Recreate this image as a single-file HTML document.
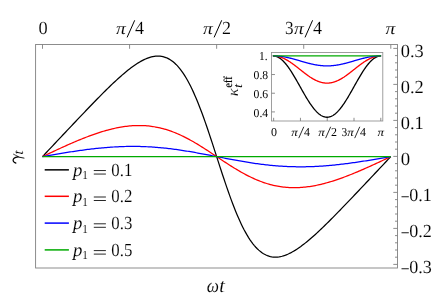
<!DOCTYPE html>
<html><head><meta charset="utf-8"><title>plot</title>
<style>html,body{margin:0;padding:0;background:#fff;}svg{display:block;will-change:transform;}text{text-rendering:geometricPrecision;}text{font-family:"Liberation Serif",serif;fill:#000;stroke:#fff;}.i{font-style:italic;}</style>
</head><body>
<svg width="434" height="305" viewBox="0 0 434 305">
<rect x="0" y="0" width="434" height="305" fill="#ffffff"/>
<g fill="none" stroke="#808080" stroke-width="0.9">
<rect x="35.60" y="44.50" width="361.90" height="223.50"/>
<line x1="42.50" y1="44.50" x2="42.50" y2="48.80"/>
<line x1="129.57" y1="44.50" x2="129.57" y2="48.80"/>
<line x1="216.65" y1="44.50" x2="216.65" y2="48.80"/>
<line x1="303.72" y1="44.50" x2="303.72" y2="48.80"/>
<line x1="390.80" y1="44.50" x2="390.80" y2="48.80"/>
<line x1="393.30" y1="264.40" x2="397.50" y2="264.40"/>
<line x1="395.00" y1="257.20" x2="397.50" y2="257.20"/>
<line x1="395.00" y1="250.00" x2="397.50" y2="250.00"/>
<line x1="395.00" y1="242.80" x2="397.50" y2="242.80"/>
<line x1="395.00" y1="235.60" x2="397.50" y2="235.60"/>
<line x1="393.30" y1="228.40" x2="397.50" y2="228.40"/>
<line x1="395.00" y1="221.20" x2="397.50" y2="221.20"/>
<line x1="395.00" y1="214.00" x2="397.50" y2="214.00"/>
<line x1="395.00" y1="206.80" x2="397.50" y2="206.80"/>
<line x1="395.00" y1="199.60" x2="397.50" y2="199.60"/>
<line x1="393.30" y1="192.40" x2="397.50" y2="192.40"/>
<line x1="395.00" y1="185.20" x2="397.50" y2="185.20"/>
<line x1="395.00" y1="178.00" x2="397.50" y2="178.00"/>
<line x1="395.00" y1="170.80" x2="397.50" y2="170.80"/>
<line x1="395.00" y1="163.60" x2="397.50" y2="163.60"/>
<line x1="393.30" y1="156.40" x2="397.50" y2="156.40"/>
<line x1="395.00" y1="149.20" x2="397.50" y2="149.20"/>
<line x1="395.00" y1="142.00" x2="397.50" y2="142.00"/>
<line x1="395.00" y1="134.80" x2="397.50" y2="134.80"/>
<line x1="395.00" y1="127.60" x2="397.50" y2="127.60"/>
<line x1="393.30" y1="120.40" x2="397.50" y2="120.40"/>
<line x1="395.00" y1="113.20" x2="397.50" y2="113.20"/>
<line x1="395.00" y1="106.00" x2="397.50" y2="106.00"/>
<line x1="395.00" y1="98.80" x2="397.50" y2="98.80"/>
<line x1="395.00" y1="91.60" x2="397.50" y2="91.60"/>
<line x1="393.30" y1="84.40" x2="397.50" y2="84.40"/>
<line x1="395.00" y1="77.20" x2="397.50" y2="77.20"/>
<line x1="395.00" y1="70.00" x2="397.50" y2="70.00"/>
<line x1="395.00" y1="62.80" x2="397.50" y2="62.80"/>
<line x1="395.00" y1="55.60" x2="397.50" y2="55.60"/>
<line x1="393.30" y1="48.40" x2="397.50" y2="48.40"/>
<rect x="271.55" y="52.55" width="111.25" height="68.45" stroke="#8e8e8e" stroke-width="0.85"/>
<line x1="273.65" y1="121.00" x2="273.65" y2="117.80"/>
<line x1="300.44" y1="121.00" x2="300.44" y2="117.80"/>
<line x1="327.23" y1="121.00" x2="327.23" y2="117.80"/>
<line x1="354.01" y1="121.00" x2="354.01" y2="117.80"/>
<line x1="380.80" y1="121.00" x2="380.80" y2="117.80"/>
<line x1="271.55" y1="55.85" x2="274.95" y2="55.85"/>
<line x1="271.55" y1="74.54" x2="274.95" y2="74.54"/>
<line x1="271.55" y1="93.23" x2="274.95" y2="93.23"/>
<line x1="271.55" y1="111.92" x2="274.95" y2="111.92"/>
</g>
<g fill="none" stroke-width="1.25" stroke-linejoin="round" stroke-linecap="butt">
<polyline stroke="#000000" points="42.50,156.60 43.95,155.06 45.40,153.52 46.85,151.98 48.30,150.44 49.76,148.89 51.21,147.35 52.66,145.81 54.11,144.27 55.56,142.73 57.01,141.19 58.46,139.65 59.91,138.11 61.37,136.57 62.82,135.03 64.27,133.49 65.72,131.96 67.17,130.42 68.62,128.88 70.07,127.35 71.53,125.81 72.98,124.28 74.43,122.74 75.88,121.21 77.33,119.68 78.78,118.15 80.23,116.63 81.68,115.10 83.14,113.58 84.59,112.06 86.04,110.54 87.49,109.03 88.94,107.52 90.39,106.01 91.84,104.51 93.29,103.01 94.75,101.52 96.20,100.03 97.65,98.55 99.10,97.07 100.55,95.60 102.00,94.14 103.45,92.68 104.90,91.24 106.35,89.80 107.81,88.38 109.26,86.97 110.71,85.56 112.16,84.17 113.61,82.80 115.06,81.44 116.51,80.09 117.97,78.77 119.42,77.46 120.87,76.17 122.32,74.90 123.77,73.66 125.22,72.44 126.67,71.24 128.12,70.07 129.57,68.93 131.03,67.83 132.48,66.75 133.93,65.72 135.38,64.72 136.83,63.76 138.28,62.84 139.73,61.97 141.19,61.14 142.64,60.37 144.09,59.65 145.54,58.98 146.99,58.38 148.44,57.83 149.89,57.36 151.34,56.95 152.80,56.62 154.25,56.36 155.70,56.19 157.15,56.10 158.60,56.10 160.05,56.19 161.50,56.37 162.95,56.66 164.41,57.05 165.86,57.55 167.31,58.17 168.76,58.90 170.21,59.75 171.66,60.72 173.11,61.83 174.56,63.06 176.02,64.43 177.47,65.94 178.92,67.59 180.37,69.38 181.82,71.32 183.27,73.40 184.72,75.64 186.17,78.02 187.62,80.55 189.08,83.22 190.53,86.05 191.98,89.02 193.43,92.13 194.88,95.38 196.33,98.77 197.78,102.29 199.23,105.94 200.69,109.71 202.14,113.58 203.59,117.57 205.04,121.65 206.49,125.82 207.94,130.06 209.39,134.38 210.84,138.75 212.30,143.17 213.75,147.63 215.20,152.11 216.65,156.60 218.10,161.09 219.55,165.57 221.00,170.03 222.45,174.45 223.91,178.82 225.36,183.14 226.81,187.38 228.26,191.55 229.71,195.63 231.16,199.62 232.61,203.49 234.07,207.26 235.52,210.91 236.97,214.43 238.42,217.82 239.87,221.07 241.32,224.18 242.77,227.15 244.22,229.98 245.68,232.65 247.13,235.18 248.58,237.56 250.03,239.80 251.48,241.88 252.93,243.82 254.38,245.61 255.83,247.26 257.28,248.77 258.74,250.14 260.19,251.37 261.64,252.48 263.09,253.45 264.54,254.30 265.99,255.03 267.44,255.65 268.90,256.15 270.35,256.54 271.80,256.83 273.25,257.01 274.70,257.10 276.15,257.10 277.60,257.01 279.05,256.84 280.50,256.58 281.96,256.25 283.41,255.84 284.86,255.37 286.31,254.82 287.76,254.22 289.21,253.55 290.66,252.83 292.12,252.06 293.57,251.23 295.02,250.36 296.47,249.44 297.92,248.48 299.37,247.48 300.82,246.45 302.27,245.37 303.72,244.27 305.18,243.13 306.63,241.96 308.08,240.76 309.53,239.54 310.98,238.30 312.43,237.03 313.88,235.74 315.34,234.43 316.79,233.11 318.24,231.76 319.69,230.40 321.14,229.03 322.59,227.64 324.04,226.23 325.49,224.82 326.94,223.40 328.40,221.96 329.85,220.52 331.30,219.06 332.75,217.60 334.20,216.13 335.65,214.65 337.10,213.17 338.56,211.68 340.01,210.19 341.46,208.69 342.91,207.19 344.36,205.68 345.81,204.17 347.26,202.66 348.71,201.14 350.17,199.62 351.62,198.10 353.07,196.57 354.52,195.05 355.97,193.52 357.42,191.99 358.87,190.46 360.32,188.92 361.78,187.39 363.23,185.85 364.68,184.32 366.13,182.78 367.58,181.24 369.03,179.71 370.48,178.17 371.93,176.63 373.39,175.09 374.84,173.55 376.29,172.01 377.74,170.47 379.19,168.93 380.64,167.39 382.09,165.85 383.54,164.31 385.00,162.76 386.45,161.22 387.90,159.68 389.35,158.14 390.80,156.60"/>
<polyline stroke="#ff0000" points="42.50,156.60 43.95,155.92 45.40,155.23 46.85,154.55 48.30,153.86 49.76,153.18 51.21,152.50 52.66,151.82 54.11,151.14 55.56,150.47 57.01,149.79 58.46,149.12 59.91,148.46 61.37,147.79 62.82,147.13 64.27,146.48 65.72,145.82 67.17,145.17 68.62,144.53 70.07,143.89 71.53,143.26 72.98,142.63 74.43,142.01 75.88,141.39 77.33,140.78 78.78,140.18 80.23,139.58 81.68,138.99 83.14,138.41 84.59,137.84 86.04,137.27 87.49,136.72 88.94,136.17 90.39,135.63 91.84,135.10 93.29,134.59 94.75,134.08 96.20,133.58 97.65,133.10 99.10,132.62 100.55,132.16 102.00,131.71 103.45,131.27 104.90,130.84 106.35,130.43 107.81,130.03 109.26,129.65 110.71,129.28 112.16,128.93 113.61,128.59 115.06,128.26 116.51,127.95 117.97,127.66 119.42,127.39 120.87,127.13 122.32,126.89 123.77,126.67 125.22,126.46 126.67,126.28 128.12,126.11 129.57,125.96 131.03,125.84 132.48,125.73 133.93,125.64 135.38,125.58 136.83,125.53 138.28,125.51 139.73,125.51 141.19,125.53 142.64,125.57 144.09,125.64 145.54,125.73 146.99,125.84 148.44,125.97 149.89,126.13 151.34,126.31 152.80,126.52 154.25,126.75 155.70,127.01 157.15,127.29 158.60,127.59 160.05,127.92 161.50,128.27 162.95,128.65 164.41,129.05 165.86,129.47 167.31,129.92 168.76,130.39 170.21,130.89 171.66,131.41 173.11,131.96 174.56,132.53 176.02,133.12 177.47,133.73 178.92,134.37 180.37,135.02 181.82,135.70 183.27,136.40 184.72,137.12 186.17,137.86 187.62,138.62 189.08,139.40 190.53,140.19 191.98,141.00 193.43,141.83 194.88,142.68 196.33,143.54 197.78,144.41 199.23,145.29 200.69,146.19 202.14,147.10 203.59,148.02 205.04,148.95 206.49,149.89 207.94,150.83 209.39,151.79 210.84,152.74 212.30,153.70 213.75,154.67 215.20,155.63 216.65,156.60 218.10,157.57 219.55,158.53 221.00,159.50 222.45,160.46 223.91,161.41 225.36,162.37 226.81,163.31 228.26,164.25 229.71,165.18 231.16,166.10 232.61,167.01 234.07,167.91 235.52,168.79 236.97,169.66 238.42,170.52 239.87,171.37 241.32,172.20 242.77,173.01 244.22,173.80 245.68,174.58 247.13,175.34 248.58,176.08 250.03,176.80 251.48,177.50 252.93,178.18 254.38,178.83 255.83,179.47 257.28,180.08 258.74,180.67 260.19,181.24 261.64,181.79 263.09,182.31 264.54,182.81 265.99,183.28 267.44,183.73 268.90,184.15 270.35,184.55 271.80,184.93 273.25,185.28 274.70,185.61 276.15,185.91 277.60,186.19 279.05,186.45 280.50,186.68 281.96,186.89 283.41,187.07 284.86,187.23 286.31,187.36 287.76,187.47 289.21,187.56 290.66,187.63 292.12,187.67 293.57,187.69 295.02,187.69 296.47,187.67 297.92,187.62 299.37,187.56 300.82,187.47 302.27,187.36 303.72,187.24 305.18,187.09 306.63,186.92 308.08,186.74 309.53,186.53 310.98,186.31 312.43,186.07 313.88,185.81 315.34,185.54 316.79,185.25 318.24,184.94 319.69,184.61 321.14,184.27 322.59,183.92 324.04,183.55 325.49,183.17 326.94,182.77 328.40,182.36 329.85,181.93 331.30,181.49 332.75,181.04 334.20,180.58 335.65,180.10 337.10,179.62 338.56,179.12 340.01,178.61 341.46,178.10 342.91,177.57 344.36,177.03 345.81,176.48 347.26,175.93 348.71,175.36 350.17,174.79 351.62,174.21 353.07,173.62 354.52,173.02 355.97,172.42 357.42,171.81 358.87,171.19 360.32,170.57 361.78,169.94 363.23,169.31 364.68,168.67 366.13,168.03 367.58,167.38 369.03,166.72 370.48,166.07 371.93,165.41 373.39,164.74 374.84,164.08 376.29,163.41 377.74,162.73 379.19,162.06 380.64,161.38 382.09,160.70 383.54,160.02 385.00,159.34 386.45,158.65 387.90,157.97 389.35,157.28 390.80,156.60"/>
<polyline stroke="#0000ff" points="42.50,156.60 43.95,156.35 45.40,156.10 46.85,155.84 48.30,155.59 49.76,155.34 51.21,155.09 52.66,154.84 54.11,154.60 55.56,154.35 57.01,154.10 58.46,153.86 59.91,153.62 61.37,153.37 62.82,153.14 64.27,152.90 65.72,152.66 67.17,152.43 68.62,152.20 70.07,151.97 71.53,151.75 72.98,151.53 74.43,151.31 75.88,151.09 77.33,150.88 78.78,150.67 80.23,150.46 81.68,150.26 83.14,150.06 84.59,149.87 86.04,149.68 87.49,149.49 88.94,149.31 90.39,149.14 91.84,148.96 93.29,148.79 94.75,148.63 96.20,148.47 97.65,148.32 99.10,148.17 100.55,148.03 102.00,147.89 103.45,147.76 104.90,147.63 106.35,147.51 107.81,147.40 109.26,147.29 110.71,147.18 112.16,147.09 113.61,147.00 115.06,146.91 116.51,146.83 117.97,146.76 119.42,146.69 120.87,146.63 122.32,146.58 123.77,146.54 125.22,146.50 126.67,146.46 128.12,146.44 129.57,146.42 131.03,146.41 132.48,146.40 133.93,146.41 135.38,146.42 136.83,146.43 138.28,146.46 139.73,146.49 141.19,146.52 142.64,146.57 144.09,146.62 145.54,146.68 146.99,146.75 148.44,146.82 149.89,146.90 151.34,146.99 152.80,147.08 154.25,147.18 155.70,147.29 157.15,147.41 158.60,147.53 160.05,147.66 161.50,147.79 162.95,147.93 164.41,148.08 165.86,148.24 167.31,148.40 168.76,148.56 170.21,148.74 171.66,148.92 173.11,149.10 174.56,149.29 176.02,149.49 177.47,149.69 178.92,149.90 180.37,150.11 181.82,150.33 183.27,150.55 184.72,150.78 186.17,151.01 187.62,151.25 189.08,151.49 190.53,151.73 191.98,151.98 193.43,152.23 194.88,152.49 196.33,152.75 197.78,153.01 199.23,153.27 200.69,153.54 202.14,153.81 203.59,154.08 205.04,154.36 206.49,154.64 207.94,154.91 209.39,155.19 210.84,155.47 212.30,155.75 213.75,156.04 215.20,156.32 216.65,156.60 218.10,156.88 219.55,157.16 221.00,157.45 222.45,157.73 223.91,158.01 225.36,158.29 226.81,158.56 228.26,158.84 229.71,159.12 231.16,159.39 232.61,159.66 234.07,159.93 235.52,160.19 236.97,160.45 238.42,160.71 239.87,160.97 241.32,161.22 242.77,161.47 244.22,161.71 245.68,161.95 247.13,162.19 248.58,162.42 250.03,162.65 251.48,162.87 252.93,163.09 254.38,163.30 255.83,163.51 257.28,163.71 258.74,163.91 260.19,164.10 261.64,164.28 263.09,164.46 264.54,164.64 265.99,164.80 267.44,164.96 268.90,165.12 270.35,165.27 271.80,165.41 273.25,165.54 274.70,165.67 276.15,165.79 277.60,165.91 279.05,166.02 280.50,166.12 281.96,166.21 283.41,166.30 284.86,166.38 286.31,166.45 287.76,166.52 289.21,166.58 290.66,166.63 292.12,166.68 293.57,166.71 295.02,166.74 296.47,166.77 297.92,166.78 299.37,166.79 300.82,166.80 302.27,166.79 303.72,166.78 305.18,166.76 306.63,166.74 308.08,166.70 309.53,166.66 310.98,166.62 312.43,166.57 313.88,166.51 315.34,166.44 316.79,166.37 318.24,166.29 319.69,166.20 321.14,166.11 322.59,166.02 324.04,165.91 325.49,165.80 326.94,165.69 328.40,165.57 329.85,165.44 331.30,165.31 332.75,165.17 334.20,165.03 335.65,164.88 337.10,164.73 338.56,164.57 340.01,164.41 341.46,164.24 342.91,164.06 344.36,163.89 345.81,163.71 347.26,163.52 348.71,163.33 350.17,163.14 351.62,162.94 353.07,162.74 354.52,162.53 355.97,162.32 357.42,162.11 358.87,161.89 360.32,161.67 361.78,161.45 363.23,161.23 364.68,161.00 366.13,160.77 367.58,160.54 369.03,160.30 370.48,160.06 371.93,159.83 373.39,159.58 374.84,159.34 376.29,159.10 377.74,158.85 379.19,158.60 380.64,158.36 382.09,158.11 383.54,157.86 385.00,157.61 386.45,157.36 387.90,157.10 389.35,156.85 390.80,156.60"/>
<polyline stroke="#00aa00" points="42.50,156.60 43.95,156.60 45.40,156.60 46.85,156.60 48.30,156.60 49.76,156.60 51.21,156.60 52.66,156.60 54.11,156.60 55.56,156.60 57.01,156.60 58.46,156.60 59.91,156.60 61.37,156.60 62.82,156.60 64.27,156.60 65.72,156.60 67.17,156.60 68.62,156.60 70.07,156.60 71.53,156.60 72.98,156.60 74.43,156.60 75.88,156.60 77.33,156.60 78.78,156.60 80.23,156.60 81.68,156.60 83.14,156.60 84.59,156.60 86.04,156.60 87.49,156.60 88.94,156.60 90.39,156.60 91.84,156.60 93.29,156.60 94.75,156.60 96.20,156.60 97.65,156.60 99.10,156.60 100.55,156.60 102.00,156.60 103.45,156.60 104.90,156.60 106.35,156.60 107.81,156.60 109.26,156.60 110.71,156.60 112.16,156.60 113.61,156.60 115.06,156.60 116.51,156.60 117.97,156.60 119.42,156.60 120.87,156.60 122.32,156.60 123.77,156.60 125.22,156.60 126.67,156.60 128.12,156.60 129.57,156.60 131.03,156.60 132.48,156.60 133.93,156.60 135.38,156.60 136.83,156.60 138.28,156.60 139.73,156.60 141.19,156.60 142.64,156.60 144.09,156.60 145.54,156.60 146.99,156.60 148.44,156.60 149.89,156.60 151.34,156.60 152.80,156.60 154.25,156.60 155.70,156.60 157.15,156.60 158.60,156.60 160.05,156.60 161.50,156.60 162.95,156.60 164.41,156.60 165.86,156.60 167.31,156.60 168.76,156.60 170.21,156.60 171.66,156.60 173.11,156.60 174.56,156.60 176.02,156.60 177.47,156.60 178.92,156.60 180.37,156.60 181.82,156.60 183.27,156.60 184.72,156.60 186.17,156.60 187.62,156.60 189.08,156.60 190.53,156.60 191.98,156.60 193.43,156.60 194.88,156.60 196.33,156.60 197.78,156.60 199.23,156.60 200.69,156.60 202.14,156.60 203.59,156.60 205.04,156.60 206.49,156.60 207.94,156.60 209.39,156.60 210.84,156.60 212.30,156.60 213.75,156.60 215.20,156.60 216.65,156.60 218.10,156.60 219.55,156.60 221.00,156.60 222.45,156.60 223.91,156.60 225.36,156.60 226.81,156.60 228.26,156.60 229.71,156.60 231.16,156.60 232.61,156.60 234.07,156.60 235.52,156.60 236.97,156.60 238.42,156.60 239.87,156.60 241.32,156.60 242.77,156.60 244.22,156.60 245.68,156.60 247.13,156.60 248.58,156.60 250.03,156.60 251.48,156.60 252.93,156.60 254.38,156.60 255.83,156.60 257.28,156.60 258.74,156.60 260.19,156.60 261.64,156.60 263.09,156.60 264.54,156.60 265.99,156.60 267.44,156.60 268.90,156.60 270.35,156.60 271.80,156.60 273.25,156.60 274.70,156.60 276.15,156.60 277.60,156.60 279.05,156.60 280.50,156.60 281.96,156.60 283.41,156.60 284.86,156.60 286.31,156.60 287.76,156.60 289.21,156.60 290.66,156.60 292.12,156.60 293.57,156.60 295.02,156.60 296.47,156.60 297.92,156.60 299.37,156.60 300.82,156.60 302.27,156.60 303.72,156.60 305.18,156.60 306.63,156.60 308.08,156.60 309.53,156.60 310.98,156.60 312.43,156.60 313.88,156.60 315.34,156.60 316.79,156.60 318.24,156.60 319.69,156.60 321.14,156.60 322.59,156.60 324.04,156.60 325.49,156.60 326.94,156.60 328.40,156.60 329.85,156.60 331.30,156.60 332.75,156.60 334.20,156.60 335.65,156.60 337.10,156.60 338.56,156.60 340.01,156.60 341.46,156.60 342.91,156.60 344.36,156.60 345.81,156.60 347.26,156.60 348.71,156.60 350.17,156.60 351.62,156.60 353.07,156.60 354.52,156.60 355.97,156.60 357.42,156.60 358.87,156.60 360.32,156.60 361.78,156.60 363.23,156.60 364.68,156.60 366.13,156.60 367.58,156.60 369.03,156.60 370.48,156.60 371.93,156.60 373.39,156.60 374.84,156.60 376.29,156.60 377.74,156.60 379.19,156.60 380.64,156.60 382.09,156.60 383.54,156.60 385.00,156.60 386.45,156.60 387.90,156.60 389.35,156.60 390.80,156.60"/>
</g>
<g fill="none" stroke-width="1.3" stroke-linejoin="round">
<polyline stroke="#000000" points="273.00,55.85 273.45,55.86 273.90,55.89 274.35,55.94 274.80,56.02 275.25,56.11 275.70,56.23 276.15,56.36 276.60,56.52 277.05,56.70 277.50,56.90 277.95,57.11 278.40,57.35 278.86,57.61 279.31,57.89 279.76,58.19 280.21,58.50 280.66,58.84 281.11,59.20 281.56,59.57 282.01,59.96 282.46,60.37 282.91,60.80 283.36,61.25 283.81,61.71 284.26,62.19 284.71,62.69 285.16,63.21 285.61,63.74 286.06,64.28 286.51,64.84 286.96,65.42 287.41,66.01 287.86,66.61 288.31,67.23 288.76,67.86 289.22,68.50 289.67,69.16 290.12,69.83 290.57,70.51 291.02,71.20 291.47,71.90 291.92,72.61 292.37,73.33 292.82,74.06 293.27,74.80 293.72,75.55 294.17,76.30 294.62,77.06 295.07,77.83 295.52,78.60 295.97,79.38 296.42,80.17 296.87,80.95 297.32,81.75 297.77,82.54 298.22,83.34 298.67,84.14 299.12,84.94 299.57,85.74 300.02,86.55 300.48,87.35 300.93,88.15 301.38,88.96 301.83,89.76 302.28,90.56 302.73,91.35 303.18,92.14 303.63,92.93 304.08,93.71 304.53,94.49 304.98,95.27 305.43,96.03 305.88,96.80 306.33,97.55 306.78,98.30 307.23,99.03 307.68,99.76 308.13,100.49 308.58,101.20 309.03,101.90 309.48,102.59 309.93,103.27 310.38,103.94 310.84,104.59 311.29,105.24 311.74,105.87 312.19,106.49 312.64,107.09 313.09,107.68 313.54,108.26 313.99,108.82 314.44,109.36 314.89,109.89 315.34,110.41 315.79,110.90 316.24,111.38 316.69,111.85 317.14,112.29 317.59,112.72 318.04,113.13 318.49,113.53 318.94,113.90 319.39,114.26 319.84,114.59 320.29,114.91 320.74,115.21 321.19,115.49 321.64,115.74 322.10,115.98 322.55,116.20 323.00,116.40 323.45,116.58 323.90,116.73 324.35,116.87 324.80,116.98 325.25,117.08 325.70,117.15 326.15,117.20 326.60,117.24 327.05,117.25 327.50,117.24 327.95,117.20 328.40,117.15 328.85,117.08 329.30,116.98 329.75,116.87 330.20,116.73 330.65,116.58 331.10,116.40 331.55,116.20 332.00,115.98 332.46,115.74 332.91,115.49 333.36,115.21 333.81,114.91 334.26,114.59 334.71,114.26 335.16,113.90 335.61,113.53 336.06,113.13 336.51,112.72 336.96,112.29 337.41,111.85 337.86,111.38 338.31,110.90 338.76,110.41 339.21,109.89 339.66,109.36 340.11,108.82 340.56,108.26 341.01,107.68 341.46,107.09 341.91,106.49 342.36,105.87 342.81,105.24 343.26,104.59 343.72,103.94 344.17,103.27 344.62,102.59 345.07,101.90 345.52,101.20 345.97,100.49 346.42,99.76 346.87,99.03 347.32,98.30 347.77,97.55 348.22,96.80 348.67,96.03 349.12,95.27 349.57,94.49 350.02,93.71 350.47,92.93 350.92,92.14 351.37,91.35 351.82,90.56 352.27,89.76 352.72,88.96 353.17,88.15 353.62,87.35 354.08,86.55 354.53,85.74 354.98,84.94 355.43,84.14 355.88,83.34 356.33,82.54 356.78,81.75 357.23,80.95 357.68,80.17 358.13,79.38 358.58,78.60 359.03,77.83 359.48,77.06 359.93,76.30 360.38,75.55 360.83,74.80 361.28,74.06 361.73,73.33 362.18,72.61 362.63,71.90 363.08,71.20 363.53,70.51 363.98,69.83 364.43,69.16 364.88,68.50 365.34,67.86 365.79,67.23 366.24,66.61 366.69,66.01 367.14,65.42 367.59,64.84 368.04,64.28 368.49,63.74 368.94,63.21 369.39,62.69 369.84,62.19 370.29,61.71 370.74,61.25 371.19,60.80 371.64,60.37 372.09,59.96 372.54,59.57 372.99,59.20 373.44,58.84 373.89,58.50 374.34,58.19 374.79,57.89 375.24,57.61 375.70,57.35 376.15,57.11 376.60,56.90 377.05,56.70 377.50,56.52 377.95,56.36 378.40,56.23 378.85,56.11 379.30,56.02 379.75,55.94 380.20,55.89 380.65,55.86 381.10,55.85"/>
<polyline stroke="#ff0000" points="273.00,55.85 273.45,55.85 273.90,55.87 274.35,55.89 274.80,55.92 275.25,55.97 275.70,56.02 276.15,56.08 276.60,56.15 277.05,56.23 277.50,56.31 277.95,56.41 278.40,56.52 278.86,56.63 279.31,56.76 279.76,56.89 280.21,57.03 280.66,57.18 281.11,57.34 281.56,57.50 282.01,57.68 282.46,57.86 282.91,58.05 283.36,58.25 283.81,58.46 284.26,58.67 284.71,58.89 285.16,59.12 285.61,59.35 286.06,59.60 286.51,59.85 286.96,60.10 287.41,60.36 287.86,60.63 288.31,60.91 288.76,61.19 289.22,61.47 289.67,61.77 290.12,62.06 290.57,62.36 291.02,62.67 291.47,62.98 291.92,63.30 292.37,63.62 292.82,63.94 293.27,64.27 293.72,64.60 294.17,64.94 294.62,65.28 295.07,65.62 295.52,65.96 295.97,66.31 296.42,66.66 296.87,67.01 297.32,67.36 297.77,67.71 298.22,68.07 298.67,68.42 299.12,68.78 299.57,69.14 300.02,69.49 300.48,69.85 300.93,70.21 301.38,70.56 301.83,70.92 302.28,71.27 302.73,71.63 303.18,71.98 303.63,72.33 304.08,72.68 304.53,73.02 304.98,73.37 305.43,73.71 305.88,74.05 306.33,74.38 306.78,74.71 307.23,75.04 307.68,75.37 308.13,75.69 308.58,76.00 309.03,76.32 309.48,76.62 309.93,76.92 310.38,77.22 310.84,77.51 311.29,77.80 311.74,78.08 312.19,78.35 312.64,78.62 313.09,78.89 313.54,79.14 313.99,79.39 314.44,79.63 314.89,79.87 315.34,80.10 315.79,80.32 316.24,80.53 316.69,80.74 317.14,80.94 317.59,81.13 318.04,81.31 318.49,81.48 318.94,81.65 319.39,81.81 319.84,81.96 320.29,82.10 320.74,82.23 321.19,82.35 321.64,82.47 322.10,82.58 322.55,82.67 323.00,82.76 323.45,82.84 323.90,82.91 324.35,82.97 324.80,83.02 325.25,83.06 325.70,83.10 326.15,83.12 326.60,83.13 327.05,83.14 327.50,83.13 327.95,83.12 328.40,83.10 328.85,83.06 329.30,83.02 329.75,82.97 330.20,82.91 330.65,82.84 331.10,82.76 331.55,82.67 332.00,82.58 332.46,82.47 332.91,82.35 333.36,82.23 333.81,82.10 334.26,81.96 334.71,81.81 335.16,81.65 335.61,81.48 336.06,81.31 336.51,81.13 336.96,80.94 337.41,80.74 337.86,80.53 338.31,80.32 338.76,80.10 339.21,79.87 339.66,79.63 340.11,79.39 340.56,79.14 341.01,78.89 341.46,78.62 341.91,78.35 342.36,78.08 342.81,77.80 343.26,77.51 343.72,77.22 344.17,76.92 344.62,76.62 345.07,76.32 345.52,76.00 345.97,75.69 346.42,75.37 346.87,75.04 347.32,74.71 347.77,74.38 348.22,74.05 348.67,73.71 349.12,73.37 349.57,73.02 350.02,72.68 350.47,72.33 350.92,71.98 351.37,71.63 351.82,71.27 352.27,70.92 352.72,70.56 353.17,70.21 353.62,69.85 354.08,69.49 354.53,69.14 354.98,68.78 355.43,68.42 355.88,68.07 356.33,67.71 356.78,67.36 357.23,67.01 357.68,66.66 358.13,66.31 358.58,65.96 359.03,65.62 359.48,65.28 359.93,64.94 360.38,64.60 360.83,64.27 361.28,63.94 361.73,63.62 362.18,63.30 362.63,62.98 363.08,62.67 363.53,62.36 363.98,62.06 364.43,61.77 364.88,61.47 365.34,61.19 365.79,60.91 366.24,60.63 366.69,60.36 367.14,60.10 367.59,59.85 368.04,59.60 368.49,59.35 368.94,59.12 369.39,58.89 369.84,58.67 370.29,58.46 370.74,58.25 371.19,58.05 371.64,57.86 372.09,57.68 372.54,57.50 372.99,57.34 373.44,57.18 373.89,57.03 374.34,56.89 374.79,56.76 375.24,56.63 375.70,56.52 376.15,56.41 376.60,56.31 377.05,56.23 377.50,56.15 377.95,56.08 378.40,56.02 378.85,55.97 379.30,55.92 379.75,55.89 380.20,55.87 380.65,55.85 381.10,55.85"/>
<polyline stroke="#0000ff" points="273.00,55.85 273.45,55.85 273.90,55.86 274.35,55.87 274.80,55.88 275.25,55.89 275.70,55.91 276.15,55.93 276.60,55.96 277.05,55.99 277.50,56.02 277.95,56.06 278.40,56.10 278.86,56.14 279.31,56.18 279.76,56.23 280.21,56.28 280.66,56.34 281.11,56.40 281.56,56.46 282.01,56.52 282.46,56.59 282.91,56.66 283.36,56.73 283.81,56.81 284.26,56.89 284.71,56.97 285.16,57.05 285.61,57.14 286.06,57.23 286.51,57.32 286.96,57.42 287.41,57.51 287.86,57.61 288.31,57.71 288.76,57.82 289.22,57.92 289.67,58.03 290.12,58.14 290.57,58.25 291.02,58.36 291.47,58.48 291.92,58.59 292.37,58.71 292.82,58.83 293.27,58.95 293.72,59.07 294.17,59.20 294.62,59.32 295.07,59.45 295.52,59.57 295.97,59.70 296.42,59.83 296.87,59.96 297.32,60.09 297.77,60.22 298.22,60.35 298.67,60.48 299.12,60.61 299.57,60.74 300.02,60.87 300.48,61.00 300.93,61.14 301.38,61.27 301.83,61.40 302.28,61.53 302.73,61.66 303.18,61.79 303.63,61.92 304.08,62.05 304.53,62.17 304.98,62.30 305.43,62.43 305.88,62.55 306.33,62.67 306.78,62.80 307.23,62.92 307.68,63.04 308.13,63.15 308.58,63.27 309.03,63.38 309.48,63.50 309.93,63.61 310.38,63.72 310.84,63.83 311.29,63.93 311.74,64.03 312.19,64.14 312.64,64.23 313.09,64.33 313.54,64.42 313.99,64.52 314.44,64.61 314.89,64.69 315.34,64.78 315.79,64.86 316.24,64.94 316.69,65.01 317.14,65.09 317.59,65.16 318.04,65.22 318.49,65.29 318.94,65.35 319.39,65.41 319.84,65.46 320.29,65.51 320.74,65.56 321.19,65.61 321.64,65.65 322.10,65.69 322.55,65.72 323.00,65.76 323.45,65.79 323.90,65.81 324.35,65.83 324.80,65.85 325.25,65.87 325.70,65.88 326.15,65.89 326.60,65.89 327.05,65.90 327.50,65.89 327.95,65.89 328.40,65.88 328.85,65.87 329.30,65.85 329.75,65.83 330.20,65.81 330.65,65.79 331.10,65.76 331.55,65.72 332.00,65.69 332.46,65.65 332.91,65.61 333.36,65.56 333.81,65.51 334.26,65.46 334.71,65.41 335.16,65.35 335.61,65.29 336.06,65.22 336.51,65.16 336.96,65.09 337.41,65.01 337.86,64.94 338.31,64.86 338.76,64.78 339.21,64.69 339.66,64.61 340.11,64.52 340.56,64.42 341.01,64.33 341.46,64.23 341.91,64.14 342.36,64.03 342.81,63.93 343.26,63.83 343.72,63.72 344.17,63.61 344.62,63.50 345.07,63.38 345.52,63.27 345.97,63.15 346.42,63.04 346.87,62.92 347.32,62.80 347.77,62.67 348.22,62.55 348.67,62.43 349.12,62.30 349.57,62.17 350.02,62.05 350.47,61.92 350.92,61.79 351.37,61.66 351.82,61.53 352.27,61.40 352.72,61.27 353.17,61.14 353.62,61.00 354.08,60.87 354.53,60.74 354.98,60.61 355.43,60.48 355.88,60.35 356.33,60.22 356.78,60.09 357.23,59.96 357.68,59.83 358.13,59.70 358.58,59.57 359.03,59.45 359.48,59.32 359.93,59.20 360.38,59.07 360.83,58.95 361.28,58.83 361.73,58.71 362.18,58.59 362.63,58.48 363.08,58.36 363.53,58.25 363.98,58.14 364.43,58.03 364.88,57.92 365.34,57.82 365.79,57.71 366.24,57.61 366.69,57.51 367.14,57.42 367.59,57.32 368.04,57.23 368.49,57.14 368.94,57.05 369.39,56.97 369.84,56.89 370.29,56.81 370.74,56.73 371.19,56.66 371.64,56.59 372.09,56.52 372.54,56.46 372.99,56.40 373.44,56.34 373.89,56.28 374.34,56.23 374.79,56.18 375.24,56.14 375.70,56.10 376.15,56.06 376.60,56.02 377.05,55.99 377.50,55.96 377.95,55.93 378.40,55.91 378.85,55.89 379.30,55.88 379.75,55.87 380.20,55.86 380.65,55.85 381.10,55.85"/>
<polyline stroke="#00aa00" points="273.00,55.85 273.45,55.85 273.90,55.85 274.35,55.85 274.80,55.85 275.25,55.85 275.70,55.85 276.15,55.85 276.60,55.85 277.05,55.85 277.50,55.85 277.95,55.85 278.40,55.85 278.86,55.85 279.31,55.85 279.76,55.85 280.21,55.85 280.66,55.85 281.11,55.85 281.56,55.85 282.01,55.85 282.46,55.85 282.91,55.85 283.36,55.85 283.81,55.85 284.26,55.85 284.71,55.85 285.16,55.85 285.61,55.85 286.06,55.85 286.51,55.85 286.96,55.85 287.41,55.85 287.86,55.85 288.31,55.85 288.76,55.85 289.22,55.85 289.67,55.85 290.12,55.85 290.57,55.85 291.02,55.85 291.47,55.85 291.92,55.85 292.37,55.85 292.82,55.85 293.27,55.85 293.72,55.85 294.17,55.85 294.62,55.85 295.07,55.85 295.52,55.85 295.97,55.85 296.42,55.85 296.87,55.85 297.32,55.85 297.77,55.85 298.22,55.85 298.67,55.85 299.12,55.85 299.57,55.85 300.02,55.85 300.48,55.85 300.93,55.85 301.38,55.85 301.83,55.85 302.28,55.85 302.73,55.85 303.18,55.85 303.63,55.85 304.08,55.85 304.53,55.85 304.98,55.85 305.43,55.85 305.88,55.85 306.33,55.85 306.78,55.85 307.23,55.85 307.68,55.85 308.13,55.85 308.58,55.85 309.03,55.85 309.48,55.85 309.93,55.85 310.38,55.85 310.84,55.85 311.29,55.85 311.74,55.85 312.19,55.85 312.64,55.85 313.09,55.85 313.54,55.85 313.99,55.85 314.44,55.85 314.89,55.85 315.34,55.85 315.79,55.85 316.24,55.85 316.69,55.85 317.14,55.85 317.59,55.85 318.04,55.85 318.49,55.85 318.94,55.85 319.39,55.85 319.84,55.85 320.29,55.85 320.74,55.85 321.19,55.85 321.64,55.85 322.10,55.85 322.55,55.85 323.00,55.85 323.45,55.85 323.90,55.85 324.35,55.85 324.80,55.85 325.25,55.85 325.70,55.85 326.15,55.85 326.60,55.85 327.05,55.85 327.50,55.85 327.95,55.85 328.40,55.85 328.85,55.85 329.30,55.85 329.75,55.85 330.20,55.85 330.65,55.85 331.10,55.85 331.55,55.85 332.00,55.85 332.46,55.85 332.91,55.85 333.36,55.85 333.81,55.85 334.26,55.85 334.71,55.85 335.16,55.85 335.61,55.85 336.06,55.85 336.51,55.85 336.96,55.85 337.41,55.85 337.86,55.85 338.31,55.85 338.76,55.85 339.21,55.85 339.66,55.85 340.11,55.85 340.56,55.85 341.01,55.85 341.46,55.85 341.91,55.85 342.36,55.85 342.81,55.85 343.26,55.85 343.72,55.85 344.17,55.85 344.62,55.85 345.07,55.85 345.52,55.85 345.97,55.85 346.42,55.85 346.87,55.85 347.32,55.85 347.77,55.85 348.22,55.85 348.67,55.85 349.12,55.85 349.57,55.85 350.02,55.85 350.47,55.85 350.92,55.85 351.37,55.85 351.82,55.85 352.27,55.85 352.72,55.85 353.17,55.85 353.62,55.85 354.08,55.85 354.53,55.85 354.98,55.85 355.43,55.85 355.88,55.85 356.33,55.85 356.78,55.85 357.23,55.85 357.68,55.85 358.13,55.85 358.58,55.85 359.03,55.85 359.48,55.85 359.93,55.85 360.38,55.85 360.83,55.85 361.28,55.85 361.73,55.85 362.18,55.85 362.63,55.85 363.08,55.85 363.53,55.85 363.98,55.85 364.43,55.85 364.88,55.85 365.34,55.85 365.79,55.85 366.24,55.85 366.69,55.85 367.14,55.85 367.59,55.85 368.04,55.85 368.49,55.85 368.94,55.85 369.39,55.85 369.84,55.85 370.29,55.85 370.74,55.85 371.19,55.85 371.64,55.85 372.09,55.85 372.54,55.85 372.99,55.85 373.44,55.85 373.89,55.85 374.34,55.85 374.79,55.85 375.24,55.85 375.70,55.85 376.15,55.85 376.60,55.85 377.05,55.85 377.50,55.85 377.95,55.85 378.40,55.85 378.85,55.85 379.30,55.85 379.75,55.85 380.20,55.85 380.65,55.85 381.10,55.85"/>
</g>
<g fill="none" stroke-width="1.5">
<line stroke="#000000" x1="44.7" y1="169.85" x2="68.9" y2="169.85"/>
<line stroke="#ff0000" x1="44.7" y1="196.30" x2="68.9" y2="196.30"/>
<line stroke="#0000ff" x1="44.7" y1="223.10" x2="68.9" y2="223.10"/>
<line stroke="#00aa00" x1="44.7" y1="249.90" x2="68.9" y2="249.90"/>
</g>
<text x="73.10" y="175.75" font-size="18.50" stroke-width="0.10" textLength="9.40" lengthAdjust="spacingAndGlyphs" class="i">p</text>
<text x="82.20" y="179.25" font-size="12.20" stroke-width="0.10" textLength="5.60" lengthAdjust="spacingAndGlyphs">1</text>
<path d="M93.8 170.55H105.9M93.8 174.05H105.9" stroke="#000" stroke-width="0.85" fill="none"/>
<text x="111.30" y="175.75" font-size="18.50" stroke-width="0.10" textLength="21.00" lengthAdjust="spacingAndGlyphs">0.1</text>
<text x="73.10" y="202.20" font-size="18.50" stroke-width="0.10" textLength="9.40" lengthAdjust="spacingAndGlyphs" class="i">p</text>
<text x="82.20" y="205.70" font-size="12.20" stroke-width="0.10" textLength="5.60" lengthAdjust="spacingAndGlyphs">1</text>
<path d="M93.8 197.00H105.9M93.8 200.50H105.9" stroke="#000" stroke-width="0.85" fill="none"/>
<text x="111.30" y="202.20" font-size="18.50" stroke-width="0.10" textLength="21.00" lengthAdjust="spacingAndGlyphs">0.2</text>
<text x="73.10" y="229.00" font-size="18.50" stroke-width="0.10" textLength="9.40" lengthAdjust="spacingAndGlyphs" class="i">p</text>
<text x="82.20" y="232.50" font-size="12.20" stroke-width="0.10" textLength="5.60" lengthAdjust="spacingAndGlyphs">1</text>
<path d="M93.8 223.80H105.9M93.8 227.30H105.9" stroke="#000" stroke-width="0.85" fill="none"/>
<text x="111.30" y="229.00" font-size="18.50" stroke-width="0.10" textLength="21.00" lengthAdjust="spacingAndGlyphs">0.3</text>
<text x="73.10" y="255.80" font-size="18.50" stroke-width="0.10" textLength="9.40" lengthAdjust="spacingAndGlyphs" class="i">p</text>
<text x="82.20" y="259.30" font-size="12.20" stroke-width="0.10" textLength="5.60" lengthAdjust="spacingAndGlyphs">1</text>
<path d="M93.8 250.60H105.9M93.8 254.10H105.9" stroke="#000" stroke-width="0.85" fill="none"/>
<text x="111.30" y="255.80" font-size="18.50" stroke-width="0.10" textLength="21.00" lengthAdjust="spacingAndGlyphs">0.5</text>
<text x="38.60" y="33.60" font-size="18.50" stroke-width="0.10" textLength="9.20" lengthAdjust="spacingAndGlyphs">0</text>
<text x="116.00" y="33.60" font-size="17.21" stroke-width="0.10" textLength="9.80" lengthAdjust="spacingAndGlyphs" class="i">π</text>
<line x1="127.10" y1="37.40" x2="134.70" y2="20.30" stroke="#000" stroke-width="1.00"/>
<text x="135.10" y="33.60" font-size="18.50" stroke-width="0.10" textLength="9.00" lengthAdjust="spacingAndGlyphs">4</text>
<text x="203.00" y="33.60" font-size="17.21" stroke-width="0.10" textLength="9.80" lengthAdjust="spacingAndGlyphs" class="i">π</text>
<line x1="214.10" y1="37.40" x2="221.70" y2="20.30" stroke="#000" stroke-width="1.00"/>
<text x="222.10" y="33.60" font-size="18.50" stroke-width="0.10" textLength="9.00" lengthAdjust="spacingAndGlyphs">2</text>
<text x="285.00" y="33.60" font-size="18.50" stroke-width="0.10" textLength="8.60" lengthAdjust="spacingAndGlyphs">3</text>
<text x="293.90" y="33.60" font-size="17.21" stroke-width="0.10" textLength="9.80" lengthAdjust="spacingAndGlyphs" class="i">π</text>
<line x1="305.00" y1="37.40" x2="312.60" y2="20.30" stroke="#000" stroke-width="1.00"/>
<text x="313.00" y="33.60" font-size="18.50" stroke-width="0.10" textLength="9.00" lengthAdjust="spacingAndGlyphs">4</text>
<text x="385.40" y="33.60" font-size="17.21" stroke-width="0.10" textLength="9.80" lengthAdjust="spacingAndGlyphs" class="i">π</text>
<text x="400.80" y="56.75" font-size="18.50" stroke-width="0.10" textLength="23.00" lengthAdjust="spacingAndGlyphs">0.3</text>
<text x="400.80" y="92.75" font-size="18.50" stroke-width="0.10" textLength="23.00" lengthAdjust="spacingAndGlyphs">0.2</text>
<text x="400.80" y="128.75" font-size="18.50" stroke-width="0.10" textLength="23.00" lengthAdjust="spacingAndGlyphs">0.1</text>
<text x="400.80" y="164.75" font-size="18.50" stroke-width="0.10" textLength="9.40" lengthAdjust="spacingAndGlyphs">0</text>
<line x1="401.5" y1="196.75" x2="408.8" y2="196.75" stroke="#000" stroke-width="0.9"/>
<text x="409.30" y="200.75" font-size="18.50" stroke-width="0.10" textLength="22.60" lengthAdjust="spacingAndGlyphs">0.1</text>
<line x1="401.5" y1="232.75" x2="408.8" y2="232.75" stroke="#000" stroke-width="0.9"/>
<text x="409.30" y="236.75" font-size="18.50" stroke-width="0.10" textLength="22.60" lengthAdjust="spacingAndGlyphs">0.2</text>
<line x1="401.5" y1="268.75" x2="408.8" y2="268.75" stroke="#000" stroke-width="0.9"/>
<text x="409.30" y="272.75" font-size="18.50" stroke-width="0.10" textLength="22.60" lengthAdjust="spacingAndGlyphs">0.3</text>
<text x="206.80" y="291.70" font-size="19.50" stroke-width="0.10" textLength="12.20" lengthAdjust="spacingAndGlyphs" class="i">ω</text>
<text x="219.30" y="291.70" font-size="19.50" stroke-width="0.10" textLength="5.60" lengthAdjust="spacingAndGlyphs" class="i">t</text>
<g fill="none" stroke="#000" stroke-linecap="round" stroke-linejoin="round">
<path d="M15.9 163.1C14.2 162.6 12.9 161.4 13.1 159.9C13.4 158.3 15.1 157.3 17.6 156.9" stroke-width="1.15"/>
<path d="M17.6 156.9L24.0 158.1" stroke-width="0.9"/>
<path d="M13.5 154.2L18.9 156.9" stroke-width="0.7"/>
</g>
<g transform="translate(20.6,164.2) rotate(-90)">
<text x="9.40" y="2.80" font-size="14.20" stroke-width="0.10" textLength="4.40" lengthAdjust="spacingAndGlyphs" class="i">t</text>
</g>
<text x="259.00" y="60.40" font-size="12.20" stroke-width="0.00" textLength="8.60" lengthAdjust="spacingAndGlyphs">1.</text>
<text x="253.60" y="78.90" font-size="12.20" stroke-width="0.00" textLength="14.60" lengthAdjust="spacingAndGlyphs">0.8</text>
<text x="253.60" y="97.70" font-size="12.20" stroke-width="0.00" textLength="14.60" lengthAdjust="spacingAndGlyphs">0.6</text>
<text x="253.60" y="116.50" font-size="12.20" stroke-width="0.00" textLength="14.60" lengthAdjust="spacingAndGlyphs">0.4</text>
<text x="270.90" y="135.60" font-size="12.20" stroke-width="0.00" textLength="6.00" lengthAdjust="spacingAndGlyphs">0</text>
<text x="291.36" y="135.60" font-size="11.35" stroke-width="0.00" textLength="6.52" lengthAdjust="spacingAndGlyphs" class="i">π</text>
<line x1="298.74" y1="138.13" x2="303.79" y2="126.76" stroke="#000" stroke-width="0.82"/>
<text x="304.06" y="135.60" font-size="12.20" stroke-width="0.00" textLength="5.99" lengthAdjust="spacingAndGlyphs">4</text>
<text x="318.26" y="135.60" font-size="11.35" stroke-width="0.00" textLength="6.52" lengthAdjust="spacingAndGlyphs" class="i">π</text>
<line x1="325.64" y1="138.13" x2="330.69" y2="126.76" stroke="#000" stroke-width="0.82"/>
<text x="330.96" y="135.60" font-size="12.20" stroke-width="0.00" textLength="5.99" lengthAdjust="spacingAndGlyphs">2</text>
<text x="341.40" y="135.60" font-size="12.20" stroke-width="0.00" textLength="5.72" lengthAdjust="spacingAndGlyphs">3</text>
<text x="347.32" y="135.60" font-size="11.35" stroke-width="0.00" textLength="6.52" lengthAdjust="spacingAndGlyphs" class="i">π</text>
<line x1="354.70" y1="138.13" x2="359.75" y2="126.76" stroke="#000" stroke-width="0.82"/>
<text x="360.02" y="135.60" font-size="12.20" stroke-width="0.00" textLength="5.99" lengthAdjust="spacingAndGlyphs">4</text>
<text x="377.44" y="135.60" font-size="11.35" stroke-width="0.00" textLength="6.52" lengthAdjust="spacingAndGlyphs" class="i">π</text>
<g transform="translate(238.3,96.9) rotate(-90)">
<text x="0.60" y="-0.30" font-size="15.50" stroke-width="0.10" textLength="8.00" lengthAdjust="spacingAndGlyphs" class="i">κ</text>
<text x="8.80" y="3.20" font-size="12.50" stroke-width="0.00" textLength="4.00" lengthAdjust="spacingAndGlyphs" class="i">t</text>
<text x="9.4" y="-6.5" font-size="12" textLength="11.2" lengthAdjust="spacingAndGlyphs" style="stroke:#000;stroke-width:0.12px">eff</text>
</g>
</svg></body></html>
